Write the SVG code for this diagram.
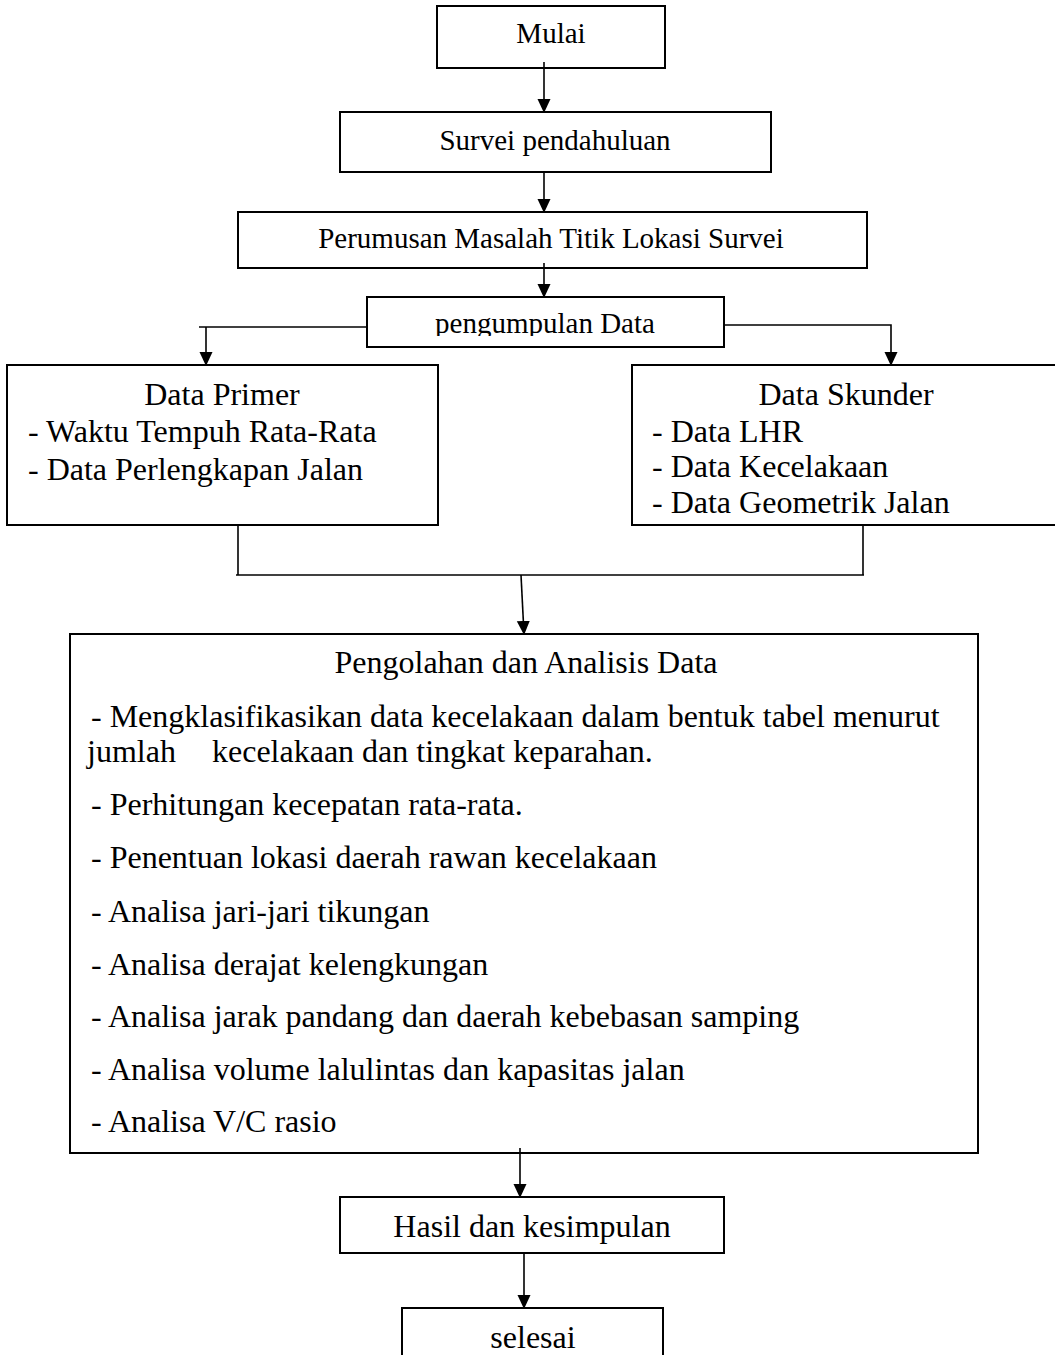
<svg xmlns="http://www.w3.org/2000/svg" width="1055" height="1355" viewBox="0 0 1055 1355">
<style>
.box{fill:#fff;stroke:#000;stroke-width:2}
.ln{fill:none;stroke:#000;stroke-width:1.6}
.t{font-family:"Liberation Serif","Times New Roman",serif;fill:#000}
.s29{font-size:29px}
.s32{font-size:32px}
.c{text-anchor:middle}
</style>
<defs>
<marker id="ah" markerWidth="14" markerHeight="15" refX="14" refY="7" orient="auto" markerUnits="userSpaceOnUse" viewBox="0 0 15 14">
<path d="M0,0 L15,7 L0,14 Z" fill="#000"/>
</marker>
<clipPath id="clipPeng"><rect x="360" y="290" width="370" height="46"/></clipPath>
</defs>
<rect width="1055" height="1355" fill="#fff"/>

<g id="mulai">
<rect class="box" x="437" y="6" width="228" height="62"/>
<text class="t s29 c" x="551" y="43">Mulai</text>
</g>
<g id="survei">
<rect class="box" x="340" y="112" width="431" height="60"/>
<text class="t s29 c" x="555" y="150">Survei pendahuluan</text>
</g>
<g id="perumusan">
<rect class="box" x="238" y="212" width="629" height="56"/>
<text class="t s29 c" x="551" y="248">Perumusan Masalah Titik Lokasi Survei</text>
</g>
<g id="pengumpulan">
<rect class="box" x="367" y="297" width="357" height="50"/>
<text class="t s29 c" x="545" y="333" clip-path="url(#clipPeng)">pengumpulan Data</text>
</g>
<g id="primer">
<rect class="box" x="7" y="365" width="431" height="160"/>
<text class="t s32 c" x="222" y="405">Data Primer</text>
<text class="t s32" x="28" y="442">- Waktu Tempuh Rata-Rata</text>
<text class="t s32" x="28" y="480">- Data Perlengkapan Jalan</text>
</g>
<g id="skunder">
<rect class="box" x="632" y="365" width="430" height="160"/>
<text class="t s32 c" x="846" y="405">Data Skunder</text>
<text class="t s32" x="652" y="442">- Data LHR</text>
<text class="t s32" x="652" y="477">- Data Kecelakaan</text>
<text class="t s32" x="652" y="513">- Data Geometrik Jalan</text>
</g>
<g id="analisis">
<rect class="box" x="70" y="634" width="908" height="519"/>
<text class="t s32 c" x="526" y="673">Pengolahan dan Analisis Data</text>
<text class="t s32" x="91" y="727">- Mengklasifikasikan data kecelakaan dalam bentuk tabel menurut</text>
<text class="t s32" x="87" y="762">jumlah<tspan x="212">kecelakaan dan tingkat keparahan.</tspan></text>
<text class="t s32" x="91" y="815">- Perhitungan kecepatan rata-rata.</text>
<text class="t s32" x="91" y="868">- Penentuan lokasi daerah rawan kecelakaan</text>
<text class="t s32" x="91" y="922">- Analisa jari-jari tikungan</text>
<text class="t s32" x="91" y="975">- Analisa derajat kelengkungan</text>
<text class="t s32" x="91" y="1027">- Analisa jarak pandang dan daerah kebebasan samping</text>
<text class="t s32" x="91" y="1080">- Analisa volume lalulintas dan kapasitas jalan</text>
<text class="t s32" x="91" y="1132">- Analisa V/C rasio</text>
</g>
<g id="hasil">
<rect class="box" x="340" y="1197" width="384" height="56"/>
<text class="t s32 c" x="532" y="1237">Hasil dan kesimpulan</text>
</g>
<g id="selesai">
<rect class="box" x="402" y="1308" width="261" height="60"/>
<text class="t s32 c" x="533" y="1348">selesai</text>
</g>

<g id="connectors">
<line class="ln" x1="544" y1="62" x2="544" y2="112" marker-end="url(#ah)"/>
<line class="ln" x1="544" y1="172" x2="544" y2="212" marker-end="url(#ah)"/>
<line class="ln" x1="544" y1="263" x2="544" y2="297" marker-end="url(#ah)"/>
<polyline class="ln" points="367,327 199,327"/>
<line class="ln" x1="206" y1="327" x2="206" y2="365" marker-end="url(#ah)"/>
<polyline class="ln" points="724,325 891,325 891,365" marker-end="url(#ah)"/>
<line class="ln" x1="238" y1="525" x2="238" y2="575"/>
<line class="ln" x1="863" y1="524" x2="863" y2="575"/>
<line class="ln" x1="236" y1="575" x2="864" y2="575" stroke-width="2.2"/>
<line class="ln" x1="521" y1="575" x2="524" y2="634" marker-end="url(#ah)"/>
<line class="ln" x1="520" y1="1148" x2="520" y2="1197" marker-end="url(#ah)"/>
<line class="ln" x1="524" y1="1253" x2="524" y2="1308" marker-end="url(#ah)"/>
</g>
</svg>
